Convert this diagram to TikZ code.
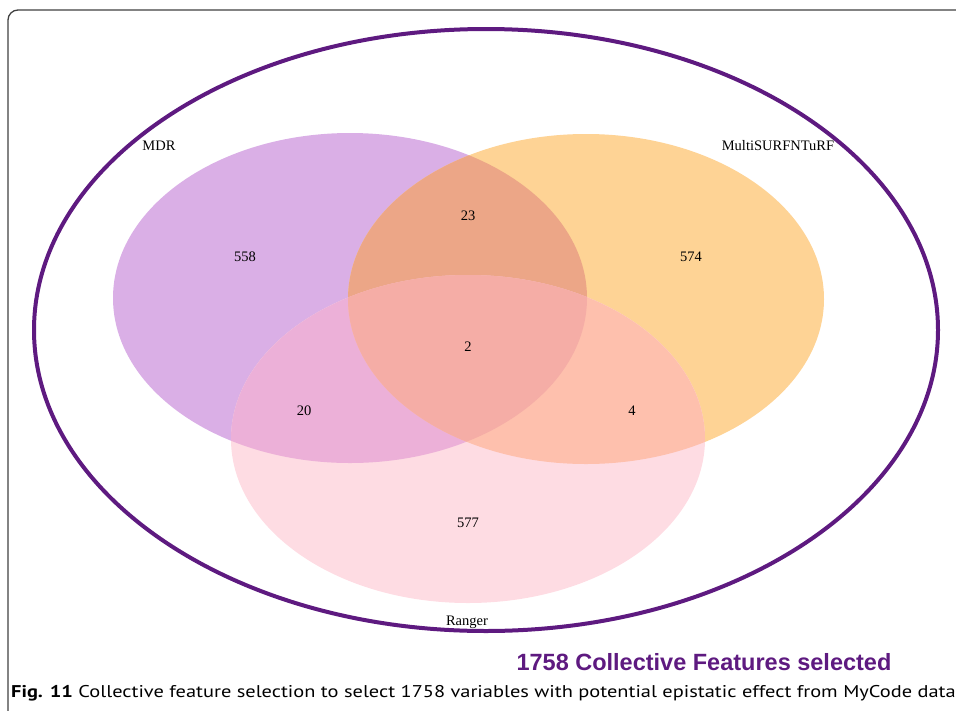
\documentclass[tikz,border=0pt]{standalone}
\usepackage{fontspec}
\setmainfont{Liberation Serif}
\newfontfamily\capfont{PT Sans}
\newfontfamily\headfont{Liberation Sans}

\definecolor{mdrcol}{RGB}{218,175,230}
\definecolor{surfcol}{RGB}{254,211,149}
\definecolor{rangcol}{RGB}{254,220,227}
\definecolor{mdrsurfcol}{RGB}{236,166,135}
\definecolor{mdrrangcol}{RGB}{236,176,216}
\definecolor{surfrangcol}{RGB}{254,192,173}
\definecolor{allcol}{RGB}{245,173,166}
\definecolor{outercol}{RGB}{94,26,128}
\definecolor{framecol}{RGB}{64,64,64}

\def\mdrset{(350,298) ellipse [x radius=237, y radius=165]}
\def\surfset{(586,299) ellipse [x radius=238, y radius=165]}
\def\rangset{(468,439) ellipse [x radius=237, y radius=164]}

\tikzset{
  setlabel/.style={font=\fontsize{14.5}{16}\selectfont, inner sep=0pt},
  count/.style={font=\fontsize{14.5}{16}\selectfont, inner sep=0pt}
}

\begin{document}
\begin{tikzpicture}[x=1pt, y=-1pt]
        \useasboundingbox (0,0) rectangle (956,710);
        \draw[framecol, line width=1.3pt, rounded corners=10pt] (8,712) -- (8,10) -- (958,10);
        \fill[mdrcol] \mdrset;
        \fill[surfcol] \surfset;
        \fill[rangcol] \rangset;
        \begin{scope}
                \clip \mdrset;
                \fill[mdrsurfcol] \surfset;
                \fill[mdrrangcol] \rangset;
        \end{scope}
        \begin{scope}
                \clip \surfset;
                \fill[surfrangcol] \rangset;
        \end{scope}
        \begin{scope}
                \clip \mdrset;
                \clip \surfset;
                \fill[allcol] \rangset;
        \end{scope}
        \draw[outercol, line width=4pt] (486,330) ellipse [x radius=452, y radius=301];
        \node[setlabel] (mdr) at (159,146) {MDR};
        \node[setlabel] (surf) at (778,146) {MultiSURFNTuRF};
        \node[setlabel] (rang) at (467,622) {Ranger};
        \node[count] (n558) at (245,257) {558};
        \node[count] (n574) at (691,257) {574};
        \node[count] (n577) at (468,523) {577};
        \node[count] (n23) at (468,216) {23};
        \node[count] (n2) at (468,347) {2};
        \node[count] (n20) at (304,411) {20};
        \node[count] (n4) at (632,411) {4};
        \node[text=outercol, font=\headfont\bfseries\fontsize{23.5}{26}\selectfont, inner sep=0pt] (title) at (704,662) {1758 Collective Features selected};
        \node[anchor=west, font=\capfont\fontsize{17}{19}\selectfont, inner sep=0pt] (caption) at (11,693) {\scalebox{1.2}[1]{\textbf{Fig. 11} Collective feature selection to select 1758 variables with potential epistatic effect from MyCode data}};
\end{tikzpicture}
\end{document}
